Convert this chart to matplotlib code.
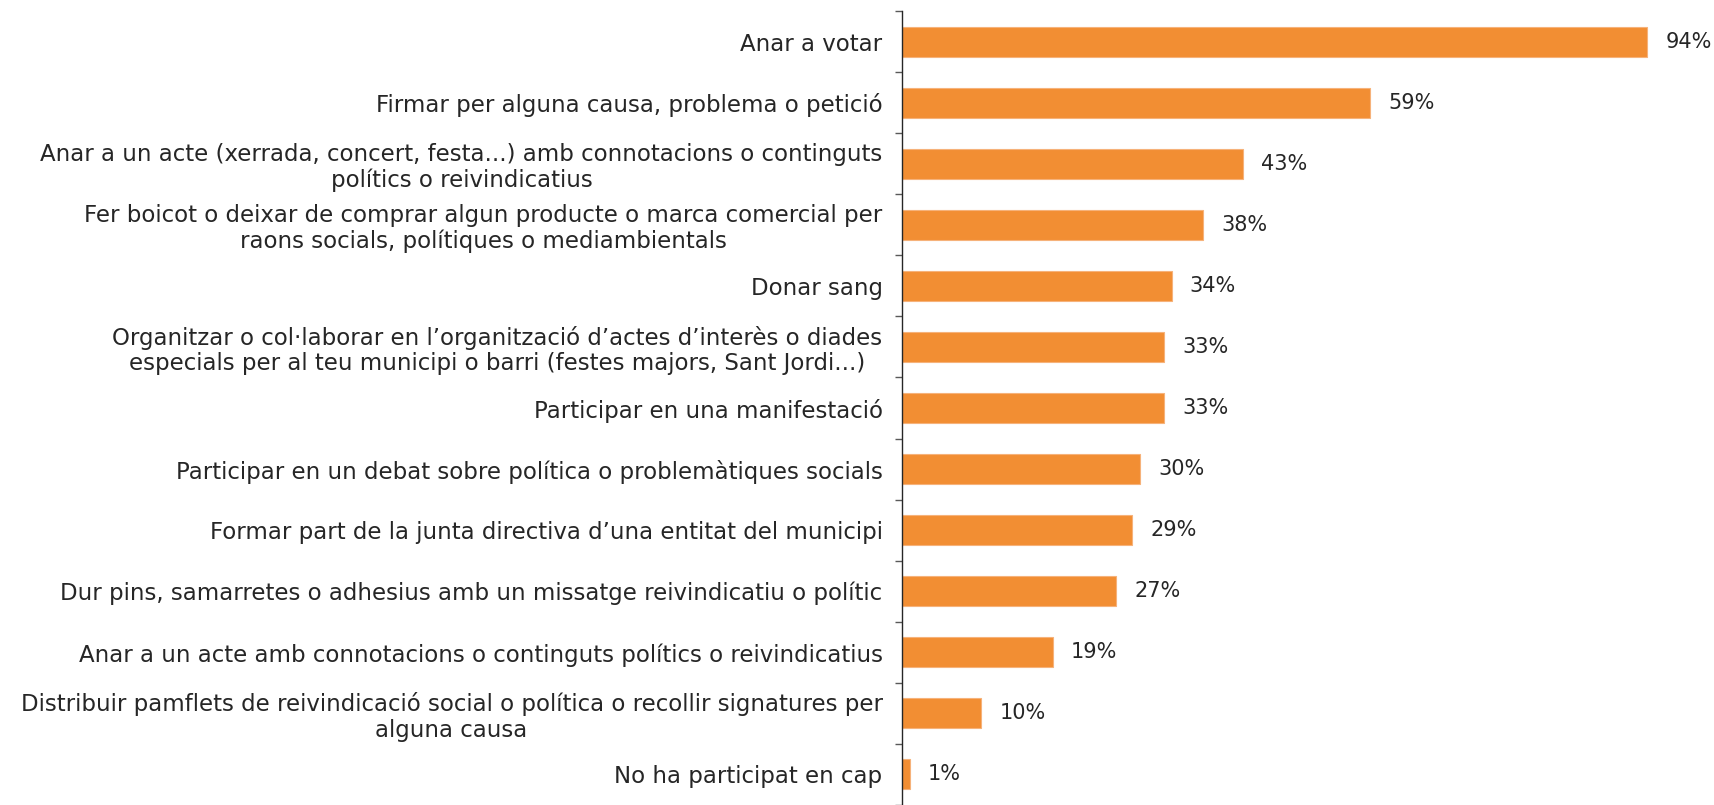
import matplotlib.pyplot as plt

labels = [
    "Anar a votar",
    "Firmar per alguna causa, problema o petició",
    "Anar a un acte (xerrada, concert, festa...) amb connotacions o continguts\npolítics o reivindicatius",
    "Fer boicot o deixar de comprar algun producte o marca comercial per\nraons socials, polítiques o mediambientals",
    "Donar sang",
    "Organitzar o col·laborar en l’organització d’actes d’interès o diades\nespecials per al teu municipi o barri (festes majors, Sant Jordi...)",
    "Participar en una manifestació",
    "Participar en un debat sobre política o problemàtiques socials",
    "Formar part de la junta directiva d’una entitat del municipi",
    "Dur pins, samarretes o adhesius amb un missatge reivindicatiu o polític",
    "Anar a un acte amb connotacions o continguts polítics o reivindicatius",
    "Distribuir pamflets de reivindicació social o política o recollir signatures per\nalguna causa",
    "No ha participat en cap",
]
values = [94, 59, 43, 38, 34, 33, 33, 30, 29, 27, 19, 10, 1]

BAR = "#F28E33"
TXT = "#262626"

plt.rcParams["font.family"] = ["DejaVu Sans"]

fig = plt.figure(figsize=(17.14, 8.05), dpi=100)
ax = fig.add_axes([902/1714, 0.0, 793/1714, 1 - 11/805])

n = len(labels)
pos = list(range(n))
ax.barh(pos, values, height=0.49, color=BAR, edgecolor="#F6B27A", linewidth=0.8)
ax.set_ylim(n - 0.5, -0.5)
ax.set_xlim(0, 100)

for y, v in zip(pos, values):
    ax.text(v + 2.3, y, f"{v}%", va="center", ha="left", fontsize=15, color=TXT)

ax.set_yticks(pos)
ax.set_yticklabels(labels, fontsize=16.5, color=TXT, multialignment="center",
                   linespacing=1.12)
ax.tick_params(axis="y", which="major", length=0, pad=14)
ax.set_yticks([p + 0.5 for p in range(-1, n)], minor=True)
ax.tick_params(axis="y", which="minor", length=5, width=1, color="#595959")
ax.set_xticks([])

for s in ["top", "right", "bottom"]:
    ax.spines[s].set_visible(False)
ax.spines["left"].set_color("#262626")
ax.spines["left"].set_linewidth(1)

fig.savefig("out.png", dpi=100)
